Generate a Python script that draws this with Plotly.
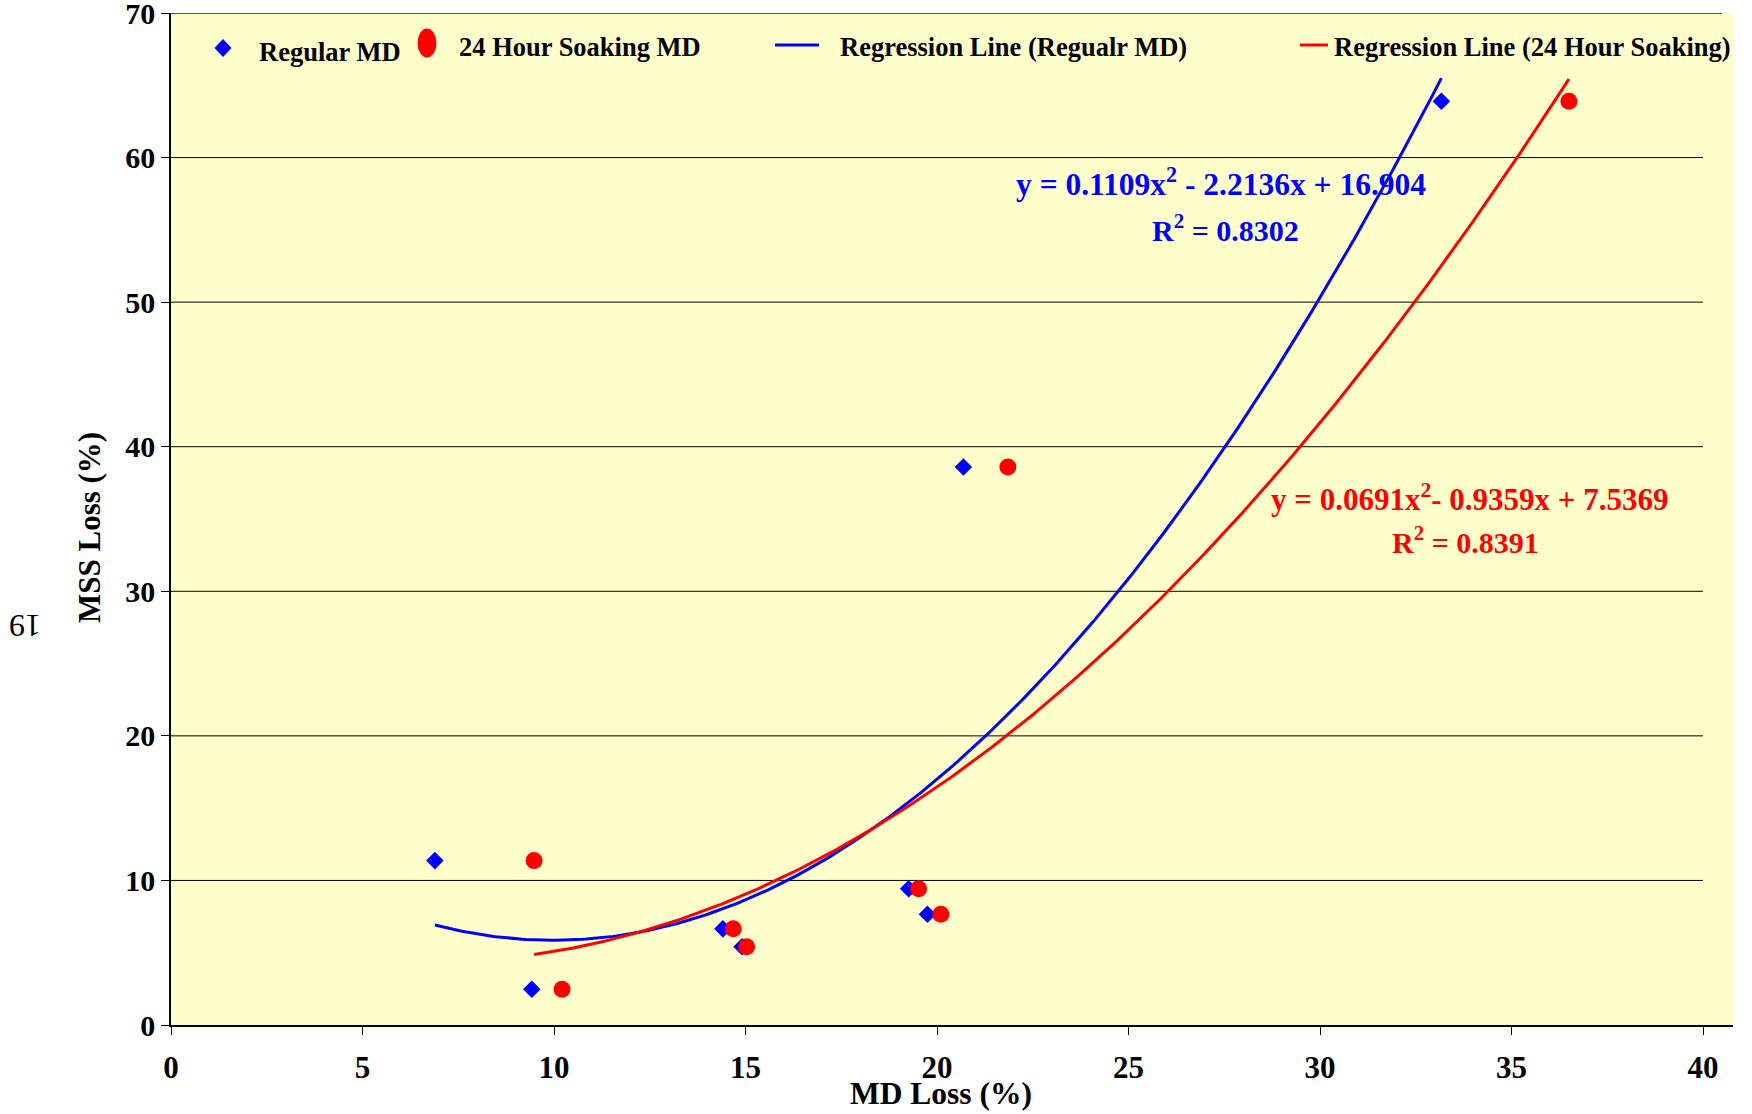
import numpy as np
import plotly.graph_objects as go

# ---------------- data ----------------
regular_md_x = [6.89, 9.42, 14.41, 14.91, 19.26, 19.75, 20.69, 33.17]
regular_mss_y = [11.37, 2.47, 6.65, 5.41, 9.43, 7.66, 38.6, 63.9]

soak_md_x = [9.48, 10.21, 14.68, 15.03, 19.52, 20.10, 21.85, 36.5]
soak_mss_y = [11.37, 2.47, 6.65, 5.41, 9.43, 7.66, 38.6, 63.9]

# trendline coefficients shown on the chart (a, b, c for y = a x^2 + b x + c)
regular_coef = [0.1109, -2.2136, 16.904]
soak_coef = [0.0691, -0.9359, 7.5369]
regular_r2 = 0.8302
soak_r2 = 0.8391

x_ticks = [0, 5, 10, 15, 20, 25, 30, 35, 40]
y_ticks = [0, 10, 20, 30, 40, 50, 60, 70]
grid_y = [10, 20, 30, 40, 50, 60]

legend_labels = ["Regular MD", "24 Hour Soaking MD",
                 "Regression Line (Regualr MD)", "Regression Line (24 Hour Soaking)"]

# ---------------- layout geometry ----------------
W, H = 1752, 1114
L, R, T, B = 171, 1733, 13, 1025
X_MAX = (R - L) / ((1703 - L) / 40.0)

def px(x):
    return (x - L) / (R - L)

def py(y):
    return (B - y) / (B - T)

FONT = "Liberation Serif, Times New Roman, serif"
BLUE = "#0000FF"
RED = "#FF0000"

def trend(xs, coef):
    xx = np.linspace(min(xs), max(xs), 300)
    return xx, np.polyval(coef, xx)

fig = go.Figure()

fig.add_trace(go.Scatter(x=regular_md_x, y=regular_mss_y, mode="markers",
                         marker=dict(symbol="diamond", size=13.5, color=BLUE),
                         name=legend_labels[0], showlegend=False))
fig.add_trace(go.Scatter(x=soak_md_x, y=soak_mss_y, mode="markers",
                         marker=dict(symbol="circle", size=17, color=RED),
                         name=legend_labels[1], showlegend=False))

bx, by = trend(regular_md_x, regular_coef)
fig.add_trace(go.Scatter(x=bx, y=by, mode="lines", line=dict(color=BLUE, width=3),
                         name=legend_labels[2], showlegend=False))
rx, ry = trend(soak_md_x, soak_coef)
fig.add_trace(go.Scatter(x=rx, y=ry, mode="lines", line=dict(color=RED, width=3),
                         name=legend_labels[3], showlegend=False))

shapes = []
for gy in grid_y:
    shapes.append(dict(type="line", xref="x", yref="y", x0=0, x1=40, y0=gy, y1=gy,
                       line=dict(color="black", width=1), layer="below"))
# top border
shapes.append(dict(type="line", xref="paper", yref="y", x0=0, x1=px(1722), y0=70, y1=70,
                   line=dict(color="#555555", width=2), layer="above"))

# manual legend glyphs
dcx, dcy, dw, dh = 223, 48, 17, 18
shapes.append(dict(type="path", xref="paper", yref="paper",
                   path=f"M {px(dcx)} {py(dcy - dh/2)} L {px(dcx + dw/2)} {py(dcy)} "
                        f"L {px(dcx)} {py(dcy + dh/2)} L {px(dcx - dw/2)} {py(dcy)} Z",
                   fillcolor=BLUE, line=dict(width=0)))
ecx, ecy, ew, eh = 427, 43, 19, 29
shapes.append(dict(type="circle", xref="paper", yref="paper",
                   x0=px(ecx - ew/2), x1=px(ecx + ew/2), y0=py(ecy + eh/2), y1=py(ecy - eh/2),
                   fillcolor=RED, line=dict(width=0)))
shapes.append(dict(type="line", xref="paper", yref="paper", x0=px(775), x1=px(819),
                   y0=py(45), y1=py(45), line=dict(color=BLUE, width=3)))
shapes.append(dict(type="line", xref="paper", yref="paper", x0=px(1300), x1=px(1328),
                   y0=py(45), y1=py(45), line=dict(color=RED, width=3)))

annotations = []
def ann(text, x, y, size, color="black", xanchor="left", bold=True, angle=0):
    annotations.append(dict(text=text, xref="paper", yref="paper", x=px(x), y=py(y),
                            xanchor=xanchor, yanchor="middle", showarrow=False,
                            textangle=angle,
                            font=dict(family=FONT, size=size, color=color,
                                      weight="bold" if bold else "normal")))

ann(legend_labels[0], 257, 52, 26.5)
ann(legend_labels[1], 457, 47, 26.5)
ann(legend_labels[2], 838, 47, 26.5)
ann(legend_labels[3], 1332, 47, 26.5)

ann(f"y = {regular_coef[0]}x<sup>2</sup> - {abs(regular_coef[1])}x + {regular_coef[2]}",
    1221, 182, 31.5, BLUE, "center")
ann(f"R<sup>2</sup> = {regular_r2}", 1225, 228, 30, BLUE, "center")
ann(f"y = {soak_coef[0]}x<sup>2</sup>- {abs(soak_coef[1])}x + {soak_coef[2]}",
    1470, 497, 31, RED, "center")
ann(f"R<sup>2</sup> = {soak_r2}", 1465, 540, 30, RED, "center")

ann("MD Loss (%)", 941, 1093, 31.5, xanchor="center")
ann("MSS Loss (%)", 89, 528, 31, xanchor="center", angle=-90)
ann("19", 25, 626, 32, xanchor="center", bold=False, angle=180)

fig.update_layout(
    width=W, height=H,
    margin=dict(l=L, r=W - R, t=T, b=H - B, pad=0, autoexpand=False),
    paper_bgcolor="white",
    plot_bgcolor="#FFFFCC",
    showlegend=False,
    shapes=shapes,
    annotations=annotations,
    font=dict(family=FONT, color="black"),
)
fig.update_xaxes(range=[0, X_MAX], tickmode="array", tickvals=x_ticks,
                 ticktext=[str(v) for v in x_ticks], automargin=False,
                 showgrid=False, zeroline=False, showline=True, linecolor="black", linewidth=2,
                 ticks="outside", ticklen=8, tickwidth=1, tickcolor="black",
                 tickfont=dict(family=FONT, size=31, weight="bold", color="black"),
                 ticklabelstandoff=6, ticklabeloverflow="allow")
fig.update_yaxes(range=[0, 70], tickmode="array", tickvals=y_ticks,
                 ticktext=[str(v) for v in y_ticks], automargin=False,
                 showgrid=False, zeroline=False, showline=True, linecolor="black", linewidth=1.5,
                 ticks="outside", ticklen=8, tickwidth=1, tickcolor="black",
                 tickfont=dict(family=FONT, size=30, weight="bold", color="black"),
                 ticklabelstandoff=0, ticklabeloverflow="allow")

fig.write_html("out.html")
